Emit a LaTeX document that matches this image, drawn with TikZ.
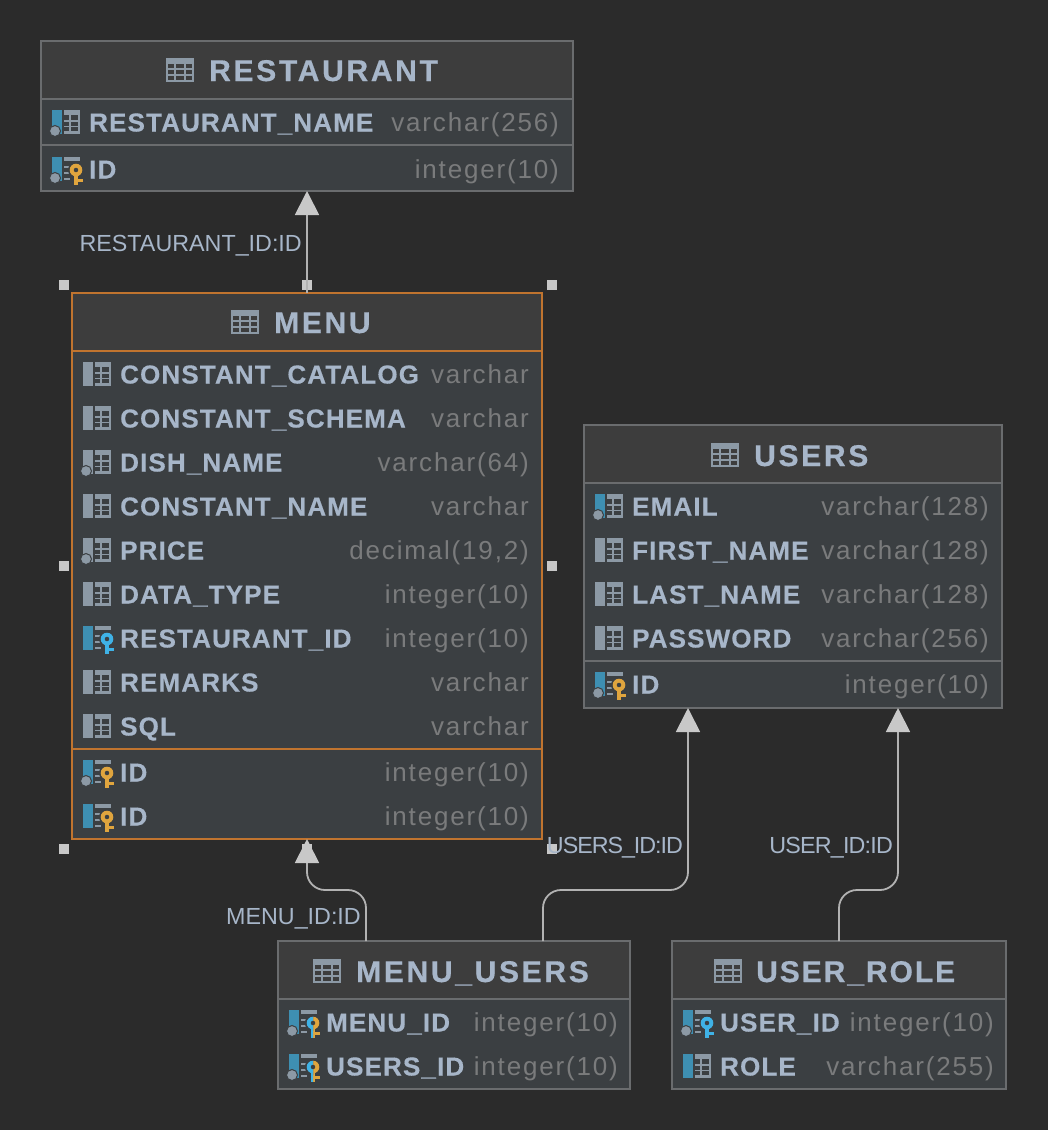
\documentclass[tikz,border=0pt]{standalone}
\usepackage{fontspec}
\usepackage{tikz}
\usetikzlibrary{arrows.meta}
\newfontfamily\titlefont[LetterSpace=9,BoldFeatures={FakeBold=0.5}]{Liberation Sans}
\newfontfamily\fieldfont[LetterSpace=4.4,BoldFeatures={FakeBold=0.4}]{Liberation Sans}
\newfontfamily\typefont[LetterSpace=7]{Liberation Sans}
\newfontfamily\linkfont{Liberation Sans}
\definecolor{canvasbg}{HTML}{2B2B2B}
\definecolor{bodybg}{HTML}{3B3F42}
\definecolor{headbg}{HTML}{3D3D3D}
\definecolor{edgegrey}{HTML}{6A6C6E}
\definecolor{edgeorange}{HTML}{C0742F}
\definecolor{textblue}{HTML}{A7B6C9}
\definecolor{typegrey}{HTML}{7A7B7C}
\definecolor{linkgrey}{HTML}{B2B2B2}
\definecolor{tipgrey}{HTML}{C8C8C8}
\definecolor{icongrey}{HTML}{8C99A5}
\definecolor{barblue}{HTML}{3E8FB2}
\definecolor{keyorange}{HTML}{E0A53E}
\definecolor{keyblue}{HTML}{3FB2E6}
\newcommand{\iconbar}[1]{\fill[#1] (0,-12) rectangle (10,12);}
\newcommand{\icondot}{\fill[icongrey,draw=bodybg,line width=1pt] (3,9) circle (5.5);}
\newcommand{\icongrid}{
  \fill[icongrey] (12,-12) rectangle (28,12);
  \foreach \cy/\ch in {-6.7/4.5,-0.3/3.8,5/4}{
    \fill[bodybg] (12,\cy) rectangle (17,\cy+\ch);
    \fill[bodybg] (18.5,\cy) rectangle (26,\cy+\ch);
  }
}
\newcommand{\iconticks}{
  \fill[icongrey] (12,-12) rectangle (28,-8);
  \foreach \cy in {-3,3,9}
    \fill[icongrey] (12,\cy) rectangle (18,\cy+2);
}
\newcommand{\iconkey}[1]{
  \fill[bodybg] (24,1) circle (8);
  \fill[#1,even odd rule] (24,1) circle (6.3) (24,1) circle (2.4);
  \fill[#1] (22,6) rectangle (26,16);
  \fill[#1] (25,10) rectangle (30.5,13);
}
\tikzset{
  tablebox/.style 2 args={draw=edgegrey,fill=bodybg,line width=1.3pt,inner sep=0,outer sep=0,minimum width=#1,minimum height=#2},
  tablehead/.style 2 args={draw=edgegrey,fill=headbg,line width=1.3pt,inner sep=0,outer sep=0,minimum width=#1,minimum height=#2},
  sepline/.style={draw=edgegrey,line width=1.3pt},
  titlelabel/.style={anchor=base west,inner sep=0,text=textblue,font=\titlefont\bfseries\fontsize{30}{34}\selectfont},
  colname/.style={anchor=base west,inner sep=0,text=textblue,font=\fieldfont\bfseries\fontsize{26}{30}\selectfont},
  coltype/.style={anchor=base east,inner sep=0,text=typegrey,font=\typefont\fontsize{26}{30}\selectfont},
  linklabel/.style={anchor=base east,inner sep=0,text=textblue,font=\linkfont\fontsize{23.3}{27}\selectfont},
  fkline/.style={draw=linkgrey,line width=1.8pt,rounded corners=18pt,-{Triangle[width=24pt,length=24pt,color=tipgrey]}},
  handlebox/.style={fill=tipgrey,inner sep=0,minimum size=10pt},
  pics/headicon/.style={code={
    \fill[icongrey] (0,0) rectangle (28,24);
    \foreach \cy in {6,12,18}
      \foreach \cx/\cw in {2/6,10/8,20/6}
        \fill[headbg] (\cx,\cy) rectangle (\cx+\cw,\cy+4);
  }},
  pics/plaincol/.style={code={\iconbar{icongrey}\icongrid}},
  pics/plainnull/.style={code={\iconbar{icongrey}\icongrid\icondot}},
  pics/bluecol/.style={code={\iconbar{barblue}\icongrid}},
  pics/bluenull/.style={code={\iconbar{barblue}\icongrid\icondot}},
  pics/pkcol/.style={code={\iconbar{barblue}\iconticks\iconkey{keyorange}}},
  pics/pknull/.style={code={\iconbar{barblue}\iconticks\icondot\iconkey{keyorange}}},
  pics/fkcol/.style={code={\iconbar{barblue}\iconticks\iconkey{keyblue}}},
  pics/fknull/.style={code={\iconbar{barblue}\iconticks\icondot\iconkey{keyblue}}},
  pics/pkfknull/.style={code={
    \iconbar{barblue}\iconticks\icondot\iconkey{keyorange}
    \begin{scope}
      \clip (14,-10) rectangle (24,17);
      \iconkey{keyblue}
    \end{scope}
  }}
}
\begin{document}
\begin{tikzpicture}
  [x=1pt,y=-1pt]

  \useasboundingbox (0,0) rectangle (1048,1130);
  \fill[canvasbg] (0,0) rectangle (1048,1130);

  % tables
  \node[tablebox={532pt}{150pt}] (restaurant) at (307,116) {};
  \node[tablehead={532pt}{58pt}] (restauranthead) at (307,70) {};
  \node[tablebox={470pt}{546pt},draw=edgeorange] (menu) at (307,566) {};
  \node[tablehead={470pt}{58pt},draw=edgeorange] (menuhead) at (307,322) {};
  \node[tablebox={418pt}{283pt}] (users) at (793,566.5) {};
  \node[tablehead={418pt}{58pt}] (usershead) at (793,454) {};
  \node[tablebox={352pt}{148pt}] (menuusers) at (454,1015) {};
  \node[tablehead={352pt}{58pt}] (menuusershead) at (454,970) {};
  \node[tablebox={334pt}{148pt}] (userrole) at (839,1015) {};
  \node[tablehead={334pt}{58pt}] (userrolehead) at (839,970) {};

  \draw[sepline] (restaurant.west |- 0,145) -- (restaurant.east |- 0,145);
  \draw[sepline,draw=edgeorange] (menu.west |- 0,749) -- (menu.east |- 0,749);
  \draw[sepline] (users.west |- 0,661) -- (users.east |- 0,661);

  % titles
  \pic at (166,58) {headicon};
  \node[titlelabel] (restauranttitle) at (209,81) {RESTAURANT};
  \pic at (231,310) {headicon};
  \node[titlelabel] (menutitle) at (274,333) {MENU};
  \pic at (711,443) {headicon};
  \node[titlelabel] (userstitle) at (754,466) {USERS};
  \pic at (313,959) {headicon};
  \node[titlelabel] (menuuserstitle) at (356,982) {MENU\_USERS};
  \pic at (714,959) {headicon};
  \node[titlelabel] (userroletitle) at (756,982) {\addfontfeature{LetterSpace=6.5}USER\_ROLE};

  % columns
  \foreach \rowy/\cname/\ctype/\cicon in {122/RESTAURANT\_NAME/varchar(256)/bluenull,169/ID/integer(10)/pknull}{
    \pic at (52,\rowy) {\cicon};
    \node[colname] (restaurantname\rowy) at (89,\rowy+9.5) {\cname};
    \node[coltype] (restauranttype\rowy) at (559,\rowy+9.5) {\ctype};
  }
  \foreach \rowy/\cname/\ctype/\cicon in {
    374/CONSTANT\_CATALOG/varchar/plaincol,
    418/CONSTANT\_SCHEMA/varchar/plaincol,
    462/DISH\_NAME/varchar(64)/plainnull,
    506/CONSTANT\_NAME/varchar/plaincol,
    550/PRICE/{decimal(19,2)}/plainnull,
    594/DATA\_TYPE/integer(10)/plaincol,
    638/RESTAURANT\_ID/integer(10)/fkcol,
    682/REMARKS/varchar/plaincol,
    726/SQL/varchar/plaincol,
    772/ID/integer(10)/pknull,
    816/ID/integer(10)/pkcol}{
    \pic at (83,\rowy) {\cicon};
    \node[colname] (menuname\rowy) at (120,\rowy+9.5) {\cname};
    \node[coltype] (menutype\rowy) at (529,\rowy+9.5) {\ctype};
  }
  \foreach \rowy/\cname/\ctype/\cicon in {
    506/EMAIL/varchar(128)/bluenull,
    550/FIRST\_NAME/varchar(128)/plaincol,
    594/LAST\_NAME/varchar(128)/plaincol,
    638/PASSWORD/varchar(256)/plaincol,
    684/ID/integer(10)/pknull}{
    \pic at (595,\rowy) {\cicon};
    \node[colname] (usersname\rowy) at (632,\rowy+9.5) {\cname};
    \node[coltype] (userstype\rowy) at (989,\rowy+9.5) {\ctype};
  }
  \foreach \rowy/\cname/\ctype/\cicon in {1022/MENU\_ID/integer(10)/pkfknull,1066/USERS\_ID/integer(10)/pkfknull}{
    \pic at (289,\rowy) {\cicon};
    \node[colname] (menuusersname\rowy) at (326,\rowy+9.5) {\cname};
    \node[coltype] (menuuserstype\rowy) at (618,\rowy+9.5) {\ctype};
  }
  \foreach \rowy/\cname/\ctype/\cicon in {1022/USER\_ID/integer(10)/fknull,1066/ROLE/varchar(255)/bluecol}{
    \pic at (683,\rowy) {\cicon};
    \node[colname] (userrolename\rowy) at (720,\rowy+9.5) {\cname};
    \node[coltype] (userroletype\rowy) at (994,\rowy+9.5) {\ctype};
  }

  % selection handles
  \foreach \hname/\hx/\hy in {h1/64/285,h2/307/285,h3/552/285,h4/64/566,h5/552/566,h6/64/849,h7/307/849,h8/552/849}
    \node[handlebox] (\hname) at (\hx,\hy) {};

  % links
  \draw[fkline] (menu.north) -- (restaurant.south);
  \draw[fkline] ([xshift=-88pt]menuusers.north) -- ++(0,-51) -| (menu.south);
  \draw[fkline] ([xshift=89pt]menuusers.north) -- ++(0,-51) -| ([xshift=-105pt]users.south);
  \draw[fkline] (userrole.north) -- ++(0,-51) -| ([xshift=105pt]users.south);

  \node[linklabel] (restaurantlink) at (302,251) {RESTAURANT\_ID:ID};
  \node[linklabel] (menulink) at (361,924) {MENU\_ID:ID};
  \node[linklabel] (userslink) at (683,853) {\addfontfeature{LetterSpace=-4.5}USERS\_ID:ID};
  \node[linklabel] (userrolelink) at (893,853) {\addfontfeature{LetterSpace=-3.5}USER\_ID:ID};
\end{tikzpicture}
\end{document}
